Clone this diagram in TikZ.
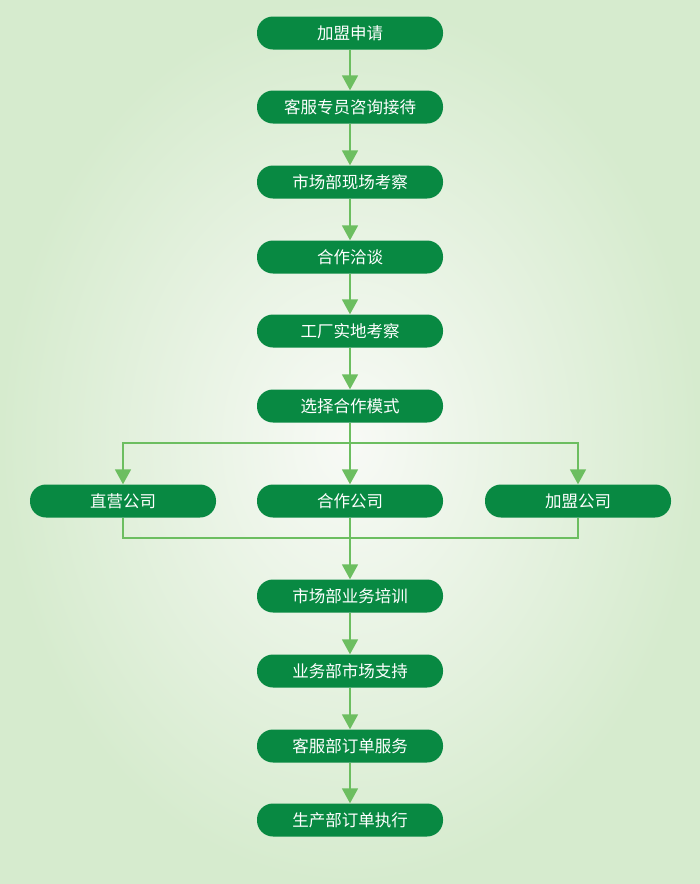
\documentclass[tikz,border=0pt]{standalone}
\usepackage{fontspec}
\newfontfamily\cjk{Noto Sans CJK SC}
\usetikzlibrary{arrows.meta}
\definecolor{boxgreen}{RGB}{8,137,66}
\definecolor{linegreen}{RGB}{108,190,96}
\definecolor{bginner}{RGB}{248,250,246}
\definecolor{bgouter}{RGB}{214,235,206}
\tikzset{
  stepbox/.style={draw=none,fill=boxgreen,rounded corners=16pt,minimum width=186pt,minimum height=33pt,inner sep=0pt,text=white,font=\cjk\fontsize{16.5pt}{18pt}\selectfont},
  flow/.style={draw=linegreen,line width=1.8pt},
  arr/.style={flow,-{Triangle[width=16pt,length=15pt]}},
}
\begin{document}
\begin{tikzpicture}[x=1pt,y=-1pt]
\shade[inner color=bginner,outer color=bgouter] (0,0) rectangle (700,884);
\useasboundingbox (0,0) rectangle (700,884);
\node[stepbox] (n1) at (350,33) {加盟申请};
\node[stepbox] (n2) at (350,107) {客服专员咨询接待};
\node[stepbox] (n3) at (350,182) {市场部现场考察};
\node[stepbox] (n4) at (350,257) {合作洽谈};
\node[stepbox] (n5) at (350,331) {工厂实地考察};
\node[stepbox] (n6) at (350,406) {选择合作模式};
\node[stepbox] (b1) at (123,501) {直营公司};
\node[stepbox] (b2) at (350,501) {合作公司};
\node[stepbox] (b3) at (578,501) {加盟公司};
\node[stepbox] (n7) at (350,596) {市场部业务培训};
\node[stepbox] (n8) at (350,671) {业务部市场支持};
\node[stepbox] (n9) at (350,746) {客服部订单服务};
\node[stepbox] (n10) at (350,820) {生产部订单执行};
\coordinate (sp) at (350,443);
\coordinate (mg) at (350,538);
\draw[arr] (n1) -- (n2);
\draw[arr] (n2) -- (n3);
\draw[arr] (n3) -- (n4);
\draw[arr] (n4) -- (n5);
\draw[arr] (n5) -- (n6);
\draw[flow] (n6.south) -- (sp);
\draw[arr] (sp) -| (b1.north);
\draw[arr] (sp) -- (b2.north);
\draw[arr] (sp) -| (b3.north);
\draw[flow] (b1.south) |- (mg);
\draw[flow] (b3.south) |- (mg);
\draw[arr] (b2.south) -- (n7.north);
\draw[arr] (n7) -- (n8);
\draw[arr] (n8) -- (n9);
\draw[arr] (n9) -- (n10);
\end{tikzpicture}
\end{document}
